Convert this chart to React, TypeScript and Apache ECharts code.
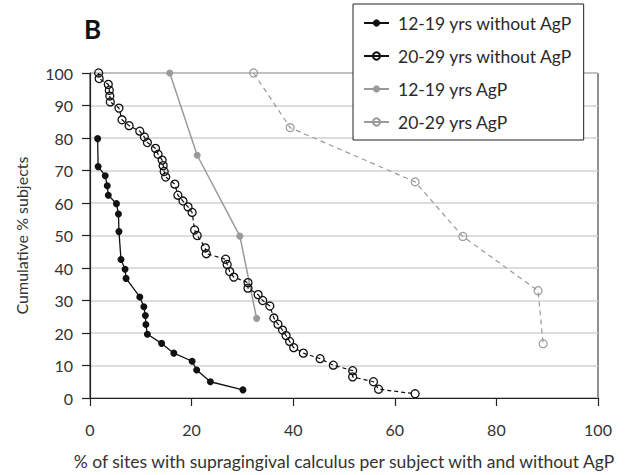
import React, { useEffect, useRef } from "react";
import * as echarts from "echarts";

const seriesNames = [
  "12-19 yrs without AgP",
  "20-29 yrs without AgP",
  "12-19 yrs AgP",
  "20-29 yrs AgP",
];

const teenNoAgpX = [1.5, 1.6, 3.0, 3.4, 3.6, 5.2, 5.6, 5.7, 6.1, 6.9, 7.1, 9.8, 10.6, 10.9, 11.0, 11.3, 14.1, 16.5, 20.1, 21.0, 23.7, 30.1];
const teenNoAgpY = [79.8, 71.2, 68.4, 65.3, 62.4, 59.8, 56.6, 51.2, 42.6, 39.6, 36.8, 31.1, 28.1, 25.4, 22.6, 19.6, 16.8, 13.8, 11.3, 8.6, 5.0, 2.5];

const adultNoAgpX = [1.7, 1.8, 3.6, 3.8, 3.9, 4.0, 5.7, 6.3, 7.7, 9.8, 10.7, 11.3, 12.9, 13.4, 14.2, 14.4, 14.6, 14.9, 16.7, 17.3, 18.3, 19.3, 20.1, 20.6, 21.1, 22.7, 22.9, 26.7, 27.0, 27.5, 28.3, 31.1, 31.1, 33.1, 34.0, 35.4, 36.2, 37.0, 37.9, 38.6, 39.3, 40.1, 42.0, 45.3, 47.9, 51.7, 51.7, 55.8, 56.8, 64.0];
const adultNoAgpY = [100, 98.3, 96.5, 94.7, 92.9, 91.1, 89.2, 85.6, 83.8, 82.1, 80.3, 78.6, 76.8, 75.0, 73.2, 71.5, 69.7, 68.0, 65.8, 62.4, 60.6, 58.8, 57.1, 51.7, 50.0, 46.2, 44.4, 42.7, 41.1, 38.9, 37.2, 35.5, 33.8, 31.8, 30.0, 28.3, 24.6, 22.7, 20.9, 19.2, 17.4, 15.5, 13.8, 12.1, 10.1, 8.4, 6.5, 5.0, 2.7, 1.3];

const teenAgpX = [15.7, 21.1, 29.5, 32.8];
const teenAgpY = [100, 74.7, 49.8, 24.5];

const adultAgpX = [32.2, 39.4, 64.0, 73.4, 88.2, 89.2];
const adultAgpY = [100, 83.2, 66.5, 49.7, 33.0, 16.7];

const xTicks = [0, 20, 40, 60, 80, 100];
const yTicks = [0, 10, 20, 30, 40, 50, 60, 70, 80, 90, 100];

const zip = (xs: number[], ys: number[]) => xs.map((x, i) => [x, ys[i]]);

const FONT = "Lato";

export default function App() {
  const ref = useRef<HTMLDivElement>(null);
  useEffect(() => {
    if (!ref.current) return;
    const chart = echarts.init(ref.current, null, { renderer: "svg" });
    chart.setOption({
      animation: false,
      backgroundColor: "#fff",
      textStyle: { fontFamily: FONT },
      title: {
        text: "B",
        left: 79,
        top: 11,
        textStyle: { fontSize: 26, fontWeight: "bold", color: "#111", fontFamily: FONT },
      },
      legend: {
        orient: "vertical",
        left: 353,
        top: 4,
        padding: [10, 11, 9, 10],
        itemGap: 15,
        itemWidth: 25,
        itemHeight: 9,
        backgroundColor: "#fff",
        borderColor: "#222",
        borderWidth: 1,
        lineStyle: { type: "solid" },
        textStyle: { fontSize: 17.5, color: "#2a2a2a", fontFamily: FONT, padding: [0, 0, 0, 4] },
        data: seriesNames,
      },
      grid: {
        left: 90,
        right: 35,
        top: 73,
        bottom: 73,
        show: true,
        borderColor: "#222",
        borderWidth: 1,
      },
      xAxis: {
        type: "value",
        min: 0,
        max: 100,
        interval: 20,
        name: "% of sites with supragingival calculus per subject with and without AgP",
        nameLocation: "middle",
        nameGap: 54,
        nameTextStyle: { fontSize: 17.5, color: "#333", fontFamily: FONT },
        axisLine: { show: true, lineStyle: { color: "#222", width: 1.2 } },
        axisTick: { show: true, length: 8, lineStyle: { color: "#222", width: 1.2 } },
        axisLabel: {
          margin: 23,
          fontSize: 16,
          color: "#333",
          fontFamily: FONT,
          formatter: (v: number) => (xTicks.includes(v) ? String(v) : ""),
        },
        splitLine: { show: false },
      },
      yAxis: {
        type: "value",
        min: 0,
        max: 100,
        interval: 10,
        name: "Cumulative % subjects",
        nameLocation: "middle",
        nameGap: 61,
        nameTextStyle: { fontSize: 16, color: "#333", fontFamily: FONT },
        axisLine: { show: true, lineStyle: { color: "#222", width: 1.2 } },
        axisTick: { show: true, length: 8, lineStyle: { color: "#222", width: 1.2 } },
        axisLabel: {
          margin: 17,
          fontSize: 16,
          color: "#333",
          fontFamily: FONT,
          formatter: (v: number) => (yTicks.includes(v) ? String(v) : ""),
        },
        splitLine: { show: true, lineStyle: { color: "#d2d2d2", width: 1.5 } },
      },
      series: [
        {
          name: seriesNames[3],
          type: "line",
          data: zip(adultAgpX, adultAgpY),
          symbol: "circle",
          symbolSize: 8,
          itemStyle: { color: "rgba(255,255,255,0)", borderColor: "#9a9a9a", borderWidth: 1.2 },
          lineStyle: { color: "#9a9a9a", width: 1.2, type: [5, 4] },
          z: 2,
        },
        {
          name: seriesNames[2],
          type: "line",
          data: zip(teenAgpX, teenAgpY),
          symbol: "circle",
          symbolSize: 7,
          itemStyle: { color: "#9a9a9a", borderWidth: 0 },
          lineStyle: { color: "#9a9a9a", width: 1.5 },
          z: 3,
        },
        {
          name: seriesNames[1],
          type: "line",
          data: zip(adultNoAgpX, adultNoAgpY),
          symbol: "circle",
          symbolSize: 8,
          itemStyle: { color: "rgba(255,255,255,0)", borderColor: "#111", borderWidth: 1.3 },
          lineStyle: { color: "#111", width: 1.2, type: [4, 3] },
          z: 4,
        },
        {
          name: seriesNames[0],
          type: "line",
          data: zip(teenNoAgpX, teenNoAgpY),
          symbol: "circle",
          symbolSize: 7,
          itemStyle: { color: "#111", borderWidth: 0 },
          lineStyle: { color: "#111", width: 1.3 },
          z: 5,
        },
      ],
    });
    return () => chart.dispose();
  }, []);
  return (
    <div
      ref={ref}
      style={{ position: "fixed", left: 0, top: 0, width: 633, height: 475, background: "#fff" }}
    />
  );
}
